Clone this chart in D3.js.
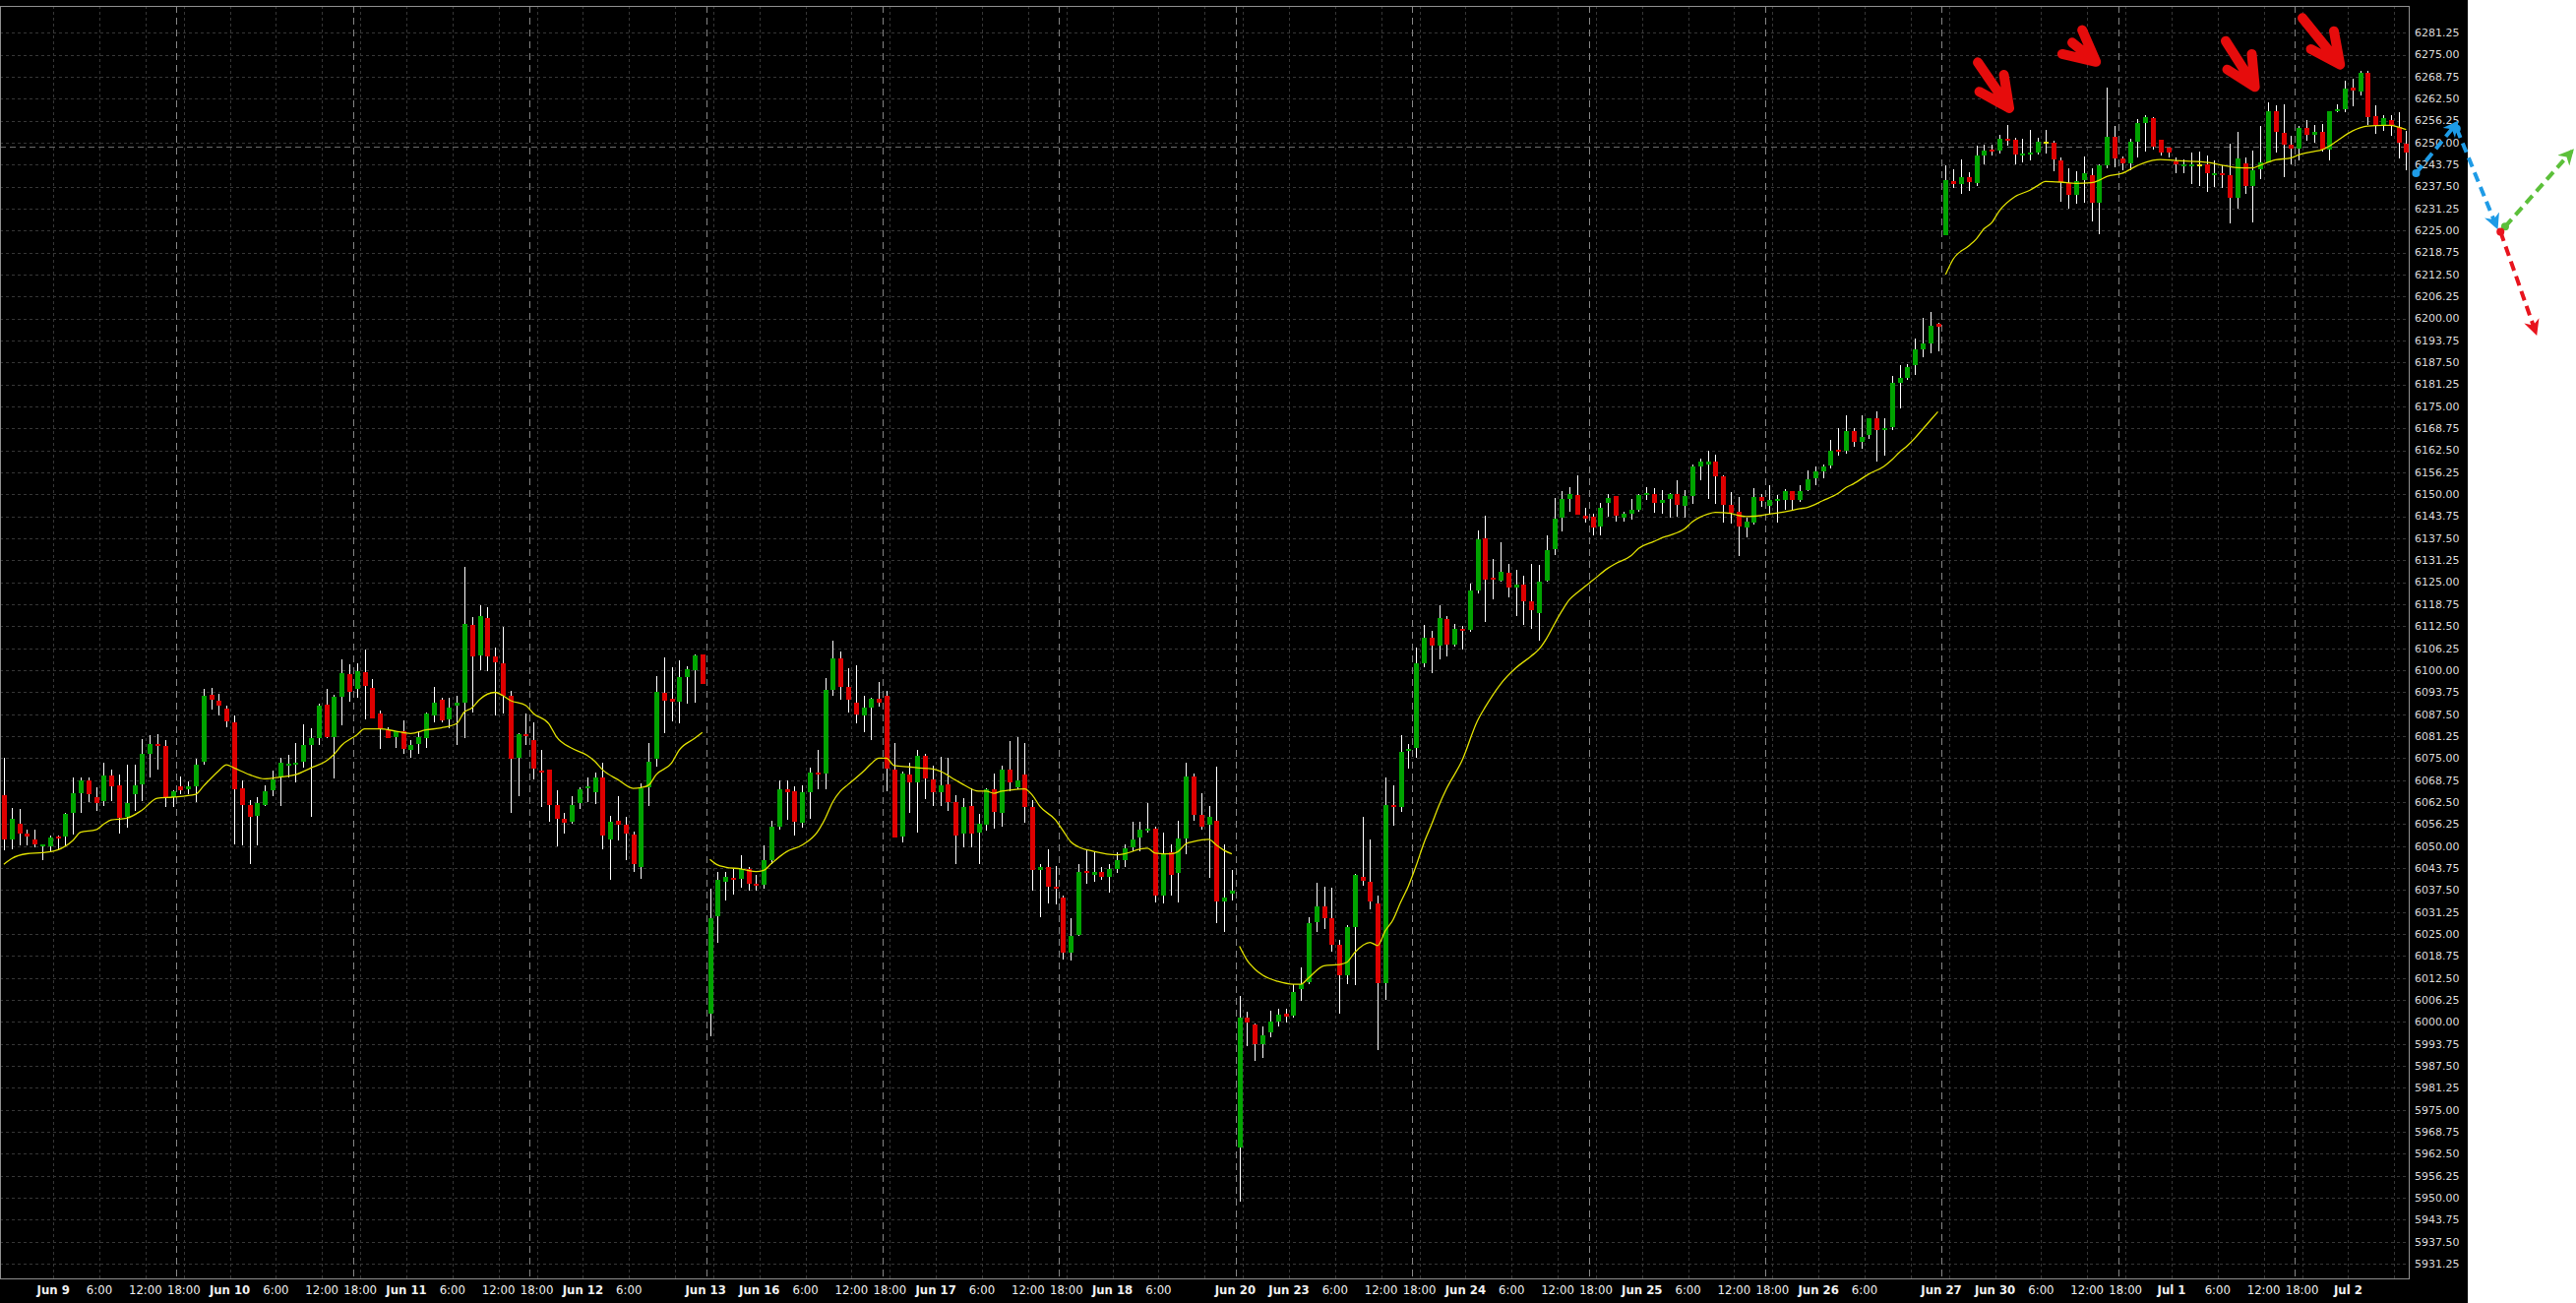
<!DOCTYPE html>
<html><head><meta charset="utf-8">
<script src="https://cdn.jsdelivr.net/npm/d3@7"></script>
<style>html,body{margin:0;padding:0;background:#fff;overflow:hidden}</style>
</head><body>
<svg id="chart" width="2618" height="1324"></svg>
<script>
// ---------- DATA (hourly OHLC, bar index 0..313) ----------
const openP = [
6064.5,6052.0,6056.3,6053.6,6051.9,6049.9,6049.9,6052.8,6052.8,6059.5,
6064.9,6068.7,6064.0,6062.8,6070.1,6067.3,6058.3,6064.7,6067.5,6076.1,
6078.9,6078.4,6064.0,6067.0,6066.1,6067.0,6074.1,6093.1,6091.4,6089.1,
6085.3,6066.3,6061.6,6058.5,6061.7,6065.8,6069.6,6072.9,6073.1,6074.1,
6078.8,6080.8,6090.2,6081.1,6092.3,6098.8,6094.7,6099.4,6094.9,6087.7,
6083.0,6080.9,6082.7,6077.3,6079.0,6080.8,6087.2,6091.6,6086.1,6089.8,
6090.9,6113.0,6104.3,6114.9,6103.9,6102.0,6092.8,6075.2,6081.7,6080.0,
6071.4,6071.7,6061.7,6057.7,6057.0,6062.3,6066.4,6065.4,6069.4,6051.8,
6057.2,6056.1,6053.3,6043.9,6066.6,6074.8,6093.6,6091.9,6091.1,6098.1,
6100.1,6104.4,6002.25,6030.0,6039.75,6041.0,6040.6,6043.5,6039.4,6039.1,
6046.0,6055.6,6066.0,6065.6,6056.6,6065.4,6070.75,6070.6,6094.4,6103.25,
6095.25,6090.75,6087.25,6089.25,6091.75,6092.75,6071.6,6052.75,6070.25,6068.1,
6075.6,6069.0,6065.4,6067.5,6062.5,6053.5,6061.25,6053.75,6056.0,6066.25,
6059.4,6071.6,6066.75,6070.25,6061.0,6043.1,6044.1,6038.5,6035.4,6019.75,
6024.75,6042.9,6041.9,6042.5,6041.25,6043.5,6046.0,6049.75,6052.4,6054.5,
6055.0,6036.0,6048.1,6042.25,6052.25,6069.75,6058.75,6056.0,6057.25,6034.1,
6036.6,5964.4,6001.3,5999.2,5993.7,5996.95,6000.1,6002.2,6001.7,6009.45,
6011.3,6028.45,6032.95,6029.45,6021.95,6013.2,6026.95,6041.3,6039.8,6033.8,
6011.1,6061.7,6061.1,6077.2,6077.8,6101.95,6109.2,6106.95,6114.45,6107.2,
6111.7,6111.6,6122.8,6137.4,6126.1,6125.45,6127.6,6123.45,6124.45,6119.45,
6116.1,6125.45,6134.5,6143.4,6148.8,6149.7,6143.9,6143.7,6140.9,6147.7,
6149.4,6143.4,6144.4,6145.5,6149.8,6150.1,6147.5,6148.7,6150.1,6146.7,
6149.5,6157.9,6158.6,6159.2,6155.1,6146.9,6145.0,6140.6,6142.0,6149.2,
6146.7,6148.1,6148.5,6150.8,6148.5,6151.1,6154.7,6156.6,6158.1,6162.5,
6162.3,6168.1,6164.8,6166.9,6171.6,6168.3,6169.1,6181.6,6183.2,6186.8,
6191.2,6193.0,6198.4,6223.6,6239.1,6238.2,6240.2,6238.5,6246.3,6248.0,
6247.7,6251.1,6250.7,6246.5,6246.6,6247.1,6250.0,6250.0,6244.9,6238.5,
6235.1,6239.3,6240.7,6233.0,6243.5,6251.6,6245.5,6244.2,6250.3,6255.6,
6256.9,6250.9,6248.6,6244.6,6243.3,6243.3,6243.5,6243.8,6240.9,6241.4,
6240.7,6234.2,6244.2,6237.6,6242.5,6244.4,6259.0,6252.8,6249.5,6248.4,
6254.2,6252.2,6253.1,6247.9,6259.0,6259.5,6265.6,6264.5,6269.9,6257.5,
6255.1,6256.5,6254.4,6249.7];
const highP = [
6075.0,6060.7,6060.5,6054.8,6054.8,6050.6,6053.0,6053.0,6059.5,6069.4,
6069.4,6069.4,6066.6,6073.6,6071.7,6070.3,6073.0,6073.1,6080.4,6081.4,
6081.7,6080.2,6065.8,6069.8,6068.4,6074.8,6094.7,6094.9,6093.3,6090.0,
6087.2,6068.6,6063.1,6064.0,6067.3,6071.4,6075.0,6075.8,6079.2,6084.7,
6083.4,6090.5,6094.7,6093.1,6103.1,6101.7,6102.0,6106.0,6097.5,6088.4,
6083.9,6082.7,6085.6,6080.1,6082.7,6088.1,6095.3,6092.1,6092.1,6092.8,
6129.4,6115.1,6118.6,6117.9,6106.4,6112.3,6094.2,6082.0,6087.7,6085.1,
6077.3,6071.7,6065.8,6059.5,6064.2,6066.6,6069.4,6070.8,6073.6,6058.6,
6064.2,6058.3,6054.2,6067.8,6079.2,6098.4,6103.6,6100.8,6102.7,6101.1,
6104.5,6104.4,6037.75,6042.75,6042.75,6043.5,6047.25,6044.0,6041.9,6050.25,
6057.25,6068.75,6068.75,6066.9,6067.25,6072.25,6077.25,6097.75,6108.5,6105.25,
6100.6,6101.5,6092.75,6092.25,6096.75,6094.0,6079.4,6071.25,6073.75,6077.25,
6076.25,6072.75,6075.25,6075.0,6064.4,6063.75,6066.5,6059.0,6066.5,6070.6,
6072.75,6079.75,6080.9,6079.4,6063.1,6044.75,6049.0,6044.4,6036.0,6029.4,
6045.0,6049.0,6048.1,6044.0,6044.75,6048.1,6050.6,6056.9,6056.9,6062.25,
6055.6,6053.75,6050.6,6057.25,6073.75,6070.6,6065.0,6061.5,6072.5,6050.6,
6043.1,6007.5,6002.8,5999.45,5998.8,6003.2,6003.8,6003.8,6010.7,6015.45,
6029.8,6039.45,6038.45,6038.2,6023.45,6027.6,6042.2,6058.2,6051.95,6035.95,
6069.45,6067.35,6081.45,6079.1,6106.3,6112.95,6111.3,6118.6,6115.35,6113.2,
6112.6,6124.7,6139.6,6143.9,6131.7,6136.3,6130.1,6128.45,6126.95,6130.1,
6129.8,6138.3,6149.0,6150.9,6152.0,6155.5,6146.3,6144.4,6147.5,6150.2,
6149.4,6145.0,6148.6,6150.2,6152.0,6151.7,6151.1,6150.4,6153.9,6151.1,
6158.5,6160.1,6162.3,6161.3,6155.5,6150.6,6149.2,6143.4,6151.7,6150.1,
6152.6,6149.7,6151.5,6150.8,6152.5,6156.9,6157.9,6158.5,6165.5,6168.8,
6172.5,6168.8,6172.5,6171.6,6173.5,6171.6,6183.7,6186.8,6187.0,6194.4,
6200.1,6201.8,6198.9,6243.5,6242.3,6245.3,6241.6,6249.1,6249.5,6249.5,
6252.3,6255.1,6251.4,6251.2,6253.6,6251.4,6253.5,6250.5,6245.8,6242.8,
6241.9,6246.0,6242.8,6243.8,6265.6,6254.7,6246.0,6251.2,6256.8,6257.9,
6257.2,6250.9,6248.6,6245.8,6245.3,6247.2,6247.5,6246.3,6244.9,6243.5,
6249.7,6253.1,6245.8,6247.8,6254.7,6261.5,6260.5,6260.9,6251.9,6254.7,
6256.3,6255.1,6255.3,6259.0,6260.9,6267.7,6268.2,6270.3,6270.5,6260.7,
6257.7,6257.7,6258.7,6253.3];
const lowP = [
6048.75,6049.2,6050.2,6050.2,6049.7,6046.1,6048.6,6048.8,6050.2,6053.4,
6059.5,6062.4,6060.0,6061.4,6062.8,6053.6,6055.3,6060.0,6062.8,6069.4,
6071.7,6061.0,6061.0,6064.7,6064.7,6062.6,6073.1,6088.9,6087.2,6083.8,
6050.4,6050.2,6044.8,6050.2,6061.4,6064.1,6061.4,6069.4,6068.0,6072.2,
6058.3,6078.8,6080.6,6069.2,6084.4,6091.1,6092.1,6086.1,6086.3,6077.6,
6080.6,6077.8,6076.2,6075.0,6076.2,6077.8,6085.3,6085.3,6083.4,6078.6,
6080.6,6088.1,6100.1,6099.8,6087.2,6087.7,6059.3,6064.2,6078.8,6068.9,
6061.0,6057.0,6049.9,6053.6,6056.3,6060.5,6062.4,6061.9,6049.0,6040.5,
6051.6,6046.1,6042.7,6040.8,6061.4,6072.6,6082.1,6085.5,6084.8,6090.5,
6090.8,6096.0,5995.9,6022.6,6034.4,6036.25,6038.1,6037.25,6037.25,6037.75,
6044.75,6054.75,6057.5,6053.1,6055.25,6057.75,6066.25,6066.25,6092.75,6091.5,
6088.1,6085.0,6082.5,6080.25,6089.75,6065.6,6052.5,6051.0,6059.4,6053.75,
6063.4,6061.5,6061.25,6060.0,6044.75,6049.75,6049.75,6044.75,6054.4,6055.0,
6055.6,6065.6,6066.25,6056.5,6037.25,6029.75,6033.75,6033.5,6017.6,6017.4,
6024.4,6039.4,6039.75,6040.25,6036.75,6042.25,6044.0,6048.5,6048.5,6053.75,
6034.0,6033.75,6036.0,6034.0,6047.75,6057.25,6054.75,6041.0,6028.1,6025.6,
6034.4,5948.75,5993.2,5988.8,5989.8,5995.7,5998.8,5999.7,6001.1,6005.95,
6010.7,6025.45,6026.3,6020.1,6002.3,6010.7,6010.45,6038.8,6031.95,5991.95,
6006.2,6055.7,6059.7,6071.95,6074.95,6100.7,6099.2,6103.2,6103.85,6106.7,
6105.95,6110.95,6121.95,6113.8,6120.1,6125.1,6120.7,6115.45,6112.95,6111.7,
6108.45,6125.1,6132.7,6139.5,6145.0,6144.3,6142.1,6138.3,6138.3,6143.7,
6142.2,6142.2,6142.8,6145.0,6148.3,6144.7,6144.5,6143.3,6143.7,6143.3,
6147.3,6154.0,6148.6,6147.3,6141.9,6141.6,6132.4,6137.9,6141.3,6146.4,
6144.5,6142.1,6145.7,6145.7,6147.9,6150.8,6152.6,6154.5,6157.3,6160.9,
6161.6,6163.5,6162.9,6165.7,6159.4,6160.9,6168.3,6174.4,6182.5,6184.0,
6189.0,6190.2,6190.7,6223.6,6237.2,6235.5,6236.3,6237.6,6243.9,6246.3,
6246.9,6249.1,6243.9,6244.4,6244.9,6246.5,6246.9,6241.9,6233.2,6231.3,
6232.6,6232.9,6227.6,6223.9,6242.8,6243.0,6242.1,6242.1,6245.8,6247.5,
6248.1,6246.3,6245.8,6241.2,6241.2,6238.3,6237.8,6236.0,6237.4,6237.2,
6227.1,6231.3,6235.4,6227.3,6239.5,6244.4,6247.2,6240.2,6243.9,6244.9,
6250.5,6250.0,6247.5,6244.9,6258.7,6258.7,6260.3,6263.5,6255.1,6252.5,
6253.3,6251.9,6245.6,6242.1];
const closeP = [
6052.0,6057.8,6053.6,6052.7,6050.6,6050.3,6052.5,6052.3,6059.1,6064.9,
6068.6,6064.7,6062.1,6070.1,6067.1,6057.9,6062.3,6067.2,6076.1,6078.9,
6078.5,6063.8,6065.6,6065.8,6067.1,6073.0,6092.6,6091.7,6090.0,6085.5,
6066.1,6061.6,6058.3,6062.1,6065.6,6068.9,6073.6,6073.3,6073.6,6078.7,
6080.6,6090.0,6081.1,6092.3,6099.2,6093.9,6099.7,6095.4,6086.3,6083.4,
6080.6,6082.7,6077.6,6078.6,6080.9,6087.7,6090.9,6085.7,6089.3,6090.9,
6113.2,6103.9,6115.5,6103.9,6102.2,6092.8,6074.8,6081.7,6081.3,6072.0,
6070.8,6061.7,6057.7,6056.7,6061.7,6066.1,6066.9,6069.4,6053.0,6057.0,
6056.1,6053.6,6044.8,6066.4,6074.1,6093.8,6091.4,6091.1,6098.0,6100.3,
6104.2,6096.1,6029.6,6040.25,6041.25,6040.25,6043.5,6039.4,6038.75,6046.0,
6055.6,6066.25,6065.4,6056.9,6065.4,6071.0,6070.25,6094.4,6103.25,6095.25,
6091.6,6087.5,6089.25,6091.75,6090.75,6071.9,6052.5,6070.6,6068.1,6075.6,
6069.1,6065.4,6067.25,6062.5,6053.1,6061.0,6053.5,6056.25,6066.25,6059.75,
6071.6,6068.1,6068.75,6061.0,6043.1,6044.1,6038.5,6037.75,6019.75,6024.4,
6042.75,6042.25,6042.6,6041.25,6043.5,6046.0,6049.4,6051.9,6054.75,6055.0,
6036.0,6047.75,6041.9,6052.25,6069.75,6058.75,6055.6,6058.4,6034.1,6035.4,
6037.25,6001.25,5999.7,5993.7,5996.3,6000.1,6001.95,6001.6,6008.6,6010.7,
6027.95,6032.95,6029.45,6021.95,6013.2,6026.95,6041.7,6040.1,6034.2,6011.1,
6061.6,6061.1,6076.7,6077.7,6101.95,6109.1,6106.95,6114.7,6107.2,6111.7,
6111.2,6122.6,6137.1,6125.7,6125.7,6127.95,6123.45,6124.45,6119.45,6117.2,
6125.3,6134.1,6143.0,6148.6,6150.0,6144.3,6143.0,6140.7,6146.3,6149.1,
6143.9,6144.4,6145.5,6149.7,6150.3,6147.5,6148.5,6150.0,6146.9,6149.5,
6157.9,6159.2,6159.2,6155.1,6146.9,6144.8,6140.8,6142.2,6149.2,6148.0,
6148.5,6148.5,6150.8,6148.5,6150.9,6154.3,6156.6,6157.9,6162.5,6162.1,
6168.1,6164.8,6166.2,6171.6,6168.3,6168.8,6181.6,6183.2,6186.3,6191.2,
6192.8,6197.9,6197.6,6239.3,6238.2,6240.2,6238.8,6246.3,6247.7,6247.5,
6251.1,6250.6,6246.5,6247.0,6247.1,6250.3,6250.0,6245.3,6238.8,6235.1,
6239.1,6241.2,6233.0,6243.5,6251.6,6245.5,6244.2,6250.3,6255.6,6257.3,
6248.9,6247.2,6247.2,6243.9,6243.8,6243.8,6243.5,6241.3,6241.4,6240.7,
6234.3,6245.6,6237.7,6242.1,6244.4,6259.0,6253.2,6249.3,6248.4,6254.2,
6252.2,6253.1,6247.9,6259.0,6259.5,6265.4,6264.7,6269.9,6257.4,6255.1,
6257.0,6254.9,6250.0,6247.2];

// Moving average (yellow), [bar, value], four separate segments
const maSeg1 = [[0,6044.8],[1,6046.4],[3,6047.8],[5,6048.1],[7,6048.9],[9,6051.6],[10,6053.9],[12,6054.6],[13,6056.2],[14,6057.4],[16,6057.9],[18,6060.2],[20,6063.6],[22,6063.9],[25,6064.7],[26,6067.0],[28,6071.4],[29,6073.1],[30,6072.2],[32,6070.3],[34,6069.1],[36,6069.6],[38,6070.3],[40,6072.2],[42,6074.2],[43,6076.0],[44,6078.6],[46,6081.6],[47,6083.3],[49,6083.3],[51,6082.7],[53,6082.0],[55,6083.0],[57,6083.6],[59,6084.8],[60,6088.1],[61,6089.3],[62,6091.7],[64,6093.7],[65,6092.8],[66,6091.4],[68,6090.0],[69,6087.7],[71,6084.8],[72,6081.1],[74,6077.8],[76,6075.8],[77,6074.1],[78,6071.7],[80,6068.9],[82,6066.4],[83,6066.6],[84,6067.3],[85,6070.3],[87,6073.6],[88,6077.3],[90,6080.6],[91,6082.3]];
const maSeg2 = [[92,6046.2],[93,6044.6],[94,6044.0],[96,6043.5],[98,6042.75],[99,6043.1],[100,6045.0],[102,6048.4],[104,6050.25],[106,6054.0],[107,6057.75],[108,6062.5],[109,6065.6],[110,6067.5],[112,6071.25],[113,6073.4],[114,6075.0],[115,6075.0],[116,6072.9],[118,6072.5],[119,6072.25],[121,6071.9],[122,6071.25],[124,6068.75],[125,6067.5],[127,6065.6],[128,6065.6],[129,6065.0],[130,6065.6],[131,6065.9],[133,6066.25],[134,6064.5],[135,6061.25],[137,6057.5],[138,6054.4],[139,6051.25],[140,6049.75],[142,6048.5],[145,6047.5],[146,6047.75],[148,6049.1],[149,6049.4],[150,6048.0],[152,6047.75],[153,6048.4],[154,6050.6],[155,6051.25],[157,6051.9],[158,6050.25],[159,6048.75],[160,6047.75]];
const maSeg3 = [[161,6021.5],[162,6017.5],[163,6015.0],[164,6013.3],[166,6011.5],[168,6010.7],[169,6010.7],[170,6012.5],[172,6015.95],[174,6016.3],[175,6016.95],[176,6019.7],[178,6022.6],[179,6021.7],[180,6025.9],[181,6029.0],[182,6034.0],[183,6038.6],[184,6044.3],[185,6050.7],[186,6056.0],[187,6061.6],[188,6066.4],[190,6074.3],[192,6085.6],[193,6089.45],[195,6096.0],[197,6100.6],[199,6104.0],[200,6105.9],[201,6109.0],[202,6113.0],[203,6116.8],[204,6120.1],[205,6122.0],[206,6123.8],[207,6125.5],[209,6129.0],[210,6130.3],[212,6132.5],[213,6134.6],[215,6136.6],[216,6137.6],[217,6138.3],[219,6140.2],[220,6142.2],[222,6144.4],[223,6144.9],[225,6144.6],[226,6144.0],[227,6143.7],[229,6144.0],[230,6144.4],[232,6145.0],[234,6145.9],[235,6146.3],[237,6148.2],[239,6150.3],[240,6151.9],[241,6153.0],[243,6155.8],[245,6158.0],[246,6159.8],[247,6162.0],[248,6163.8],[249,6166.0],[250,6168.5],[251,6171.0],[252,6173.5]];
const maSeg4 = [[253,6212.5],[254,6216.9],[256,6220.6],[257,6222.6],[258,6225.5],[259,6227.2],[260,6230.6],[262,6234.6],[264,6236.5],[265,6237.8],[266,6239.0],[268,6238.8],[270,6238.4],[272,6238.6],[273,6239.3],[274,6240.4],[276,6241.3],[278,6243.5],[280,6245.0],[281,6245.2],[283,6244.9],[286,6244.6],[288,6244.1],[289,6243.6],[291,6242.9],[293,6242.8],[294,6243.6],[296,6245.1],[298,6245.7],[299,6246.5],[301,6247.5],[302,6247.9],[303,6249.0],[304,6250.5],[306,6253.3],[307,6254.2],[308,6254.7],[310,6254.9],[311,6254.9],[312,6254.4],[313,6253.7]];

// Time axis labels: bar index + text
const xTickBars   = [6,12,18,23,29,35,41,46,52,58,64,69,75,81,91,98,104,110,115,121,127,133,138,144,150,160,167,173,179,184,190,196,202,207,213,219,225,230,236,242,252,259,265,271,276,282,288,294,299,305];
const xTickLabels = ["Jun 9","6:00","12:00","18:00","Jun 10","6:00","12:00","18:00","Jun 11","6:00","12:00","18:00","Jun 12","6:00","Jun 13","Jun 16","6:00","12:00","18:00","Jun 17","6:00","12:00","18:00","Jun 18","6:00","Jun 20","Jun 23","6:00","12:00","18:00","Jun 24","6:00","12:00","18:00","Jun 25","6:00","12:00","18:00","Jun 26","6:00","Jun 27","Jun 30","6:00","12:00","18:00","Jul 1","6:00","12:00","18:00","Jul 2"];
const dayStartBars = [6,29,52,75,98,121,144,167,190,213,236,259,282,305];
const sessionBreakBars = [22.5,45.5,68.5,91.5,114.5,137.5,160.5,183.5,206.5,229.5,252.5,275.5,298.5];
const yTickMin = 5931.25, yTickMax = 6281.25, yTickStep = 6.25;
const priceLineValue = 6248.9;

// Hand-drawn annotations (bar index / price)
const redArrows = [
  {from:[257.2,6272.85], tip:[261.3,6259.8], barbA:[257.4,6264.5], barbB:[260.6,6269.3]},
  {from:[269.5,6278.45], tip:[272.6,6273.0], barbA:[268.2,6275.2], barbB:[270.8,6282.0]},
  {from:[289.5,6278.9],  tip:[293.3,6265.85], barbA:[289.7,6270.8], barbB:[292.9,6275.2]},
  {from:[299.5,6285.45], tip:[304.4,6272.2], barbA:[300.6,6276.6], barbB:[303.6,6281.7]}
];
const dashArrows = [
  {color:"#1e9be6", from:[314.3,6241.3], to:[319.6,6255.6]},
  {color:"#1e9be6", from:[319.6,6254.0], to:[324.8,6226.1]},
  {color:"#5cc03a", from:[325.9,6226.1], to:[334.6,6247.6]},
  {color:"#e8141e", from:[325.3,6224.7], to:[329.9,6196.0]}
];

// ---------- DRAW ----------
const W = 2618, H = 1324;
const plotL = 0, plotR = 2448, plotT = 6, plotB = 1299;
const svg = d3.select("#chart");
const x = d3.scaleLinear().domain([0, 313]).range([3.9, 2445.3]);
const y = d3.scaleLinear().domain([yTickMin, yTickMax]).range([1284, 33.3]);

svg.append("rect").attr("x",0).attr("y",0).attr("width",W).attr("height",H).attr("fill","#ffffff");
svg.append("rect").attr("x",0).attr("y",0).attr("width",2508).attr("height",H).attr("fill","#000000");

const defs = svg.append("defs");
defs.append("clipPath").attr("id","plotclip").append("rect")
  .attr("x",plotL).attr("y",plotT).attr("width",plotR-plotL).attr("height",plotB-plotT);

const yTicks = d3.range(yTickMin, yTickMax + 0.001, yTickStep);

const grid = svg.append("g").attr("clip-path","url(#plotclip)");
grid.selectAll("line.hg").data(yTicks).enter().append("line")
  .attr("x1",plotL).attr("x2",plotR)
  .attr("y1",d=>Math.round(y(d))+0.5).attr("y2",d=>Math.round(y(d))+0.5)
  .attr("stroke","#363636").attr("stroke-width",1).attr("stroke-dasharray","3,3");
const vBars = [];
dayStartBars.forEach(d => [0,6,12,17].forEach(o => { if (d+o <= 313) vBars.push(d+o); }));
grid.selectAll("line.vg").data(vBars).enter().append("line")
  .attr("x1",d=>Math.round(x(d)+3.5)+0.5).attr("x2",d=>Math.round(x(d)+3.5)+0.5)
  .attr("y1",plotT).attr("y2",plotB)
  .attr("stroke","#363636").attr("stroke-width",1).attr("stroke-dasharray","3,3");
grid.selectAll("line.sep").data(sessionBreakBars).enter().append("line")
  .attr("x1",d=>Math.round(x(d))+0.5).attr("x2",d=>Math.round(x(d))+0.5)
  .attr("y1",plotT).attr("y2",plotB)
  .attr("stroke","#858585").attr("stroke-width",1).attr("stroke-dasharray","7,5");
grid.append("line").attr("x1",plotL).attr("x2",plotR)
  .attr("y1",Math.round(y(priceLineValue))+0.5).attr("y2",Math.round(y(priceLineValue))+0.5)
  .attr("stroke","#6a6a6a").attr("stroke-width",1).attr("stroke-dasharray","6,4");

// candles
const bars = d3.range(openP.length).map(i => ({i, o:openP[i], h:highP[i], l:lowP[i], c:closeP[i]}));
const cg = svg.append("g").attr("clip-path","url(#plotclip)");
const cand = cg.selectAll("g.c").data(bars).enter().append("g");
cand.append("line")
  .attr("x1",d=>Math.round(x(d.i))+0.5).attr("x2",d=>Math.round(x(d.i))+0.5)
  .attr("y1",d=>y(d.h)).attr("y2",d=>y(d.l))
  .attr("stroke","#ffffff").attr("stroke-width",1).attr("shape-rendering","crispEdges");
cand.append("rect")
  .attr("x",d=>Math.round(x(d.i))-2)
  .attr("width",5)
  .attr("y",d=>{const t=Math.min(y(d.o),y(d.c)), hh=Math.abs(y(d.o)-y(d.c)); return hh<2 ? (y(d.o)+y(d.c))/2-1 : t;})
  .attr("height",d=>Math.max(2, Math.abs(y(d.o)-y(d.c))))
  .attr("fill",d=> d.c>d.o ? "#00a300" : (d.c<d.o ? "#dd0000" : "#e8e800"))
  .attr("shape-rendering","crispEdges");

// moving average
const maLine = d3.line().x(d=>x(d[0])).y(d=>y(d[1])).curve(d3.curveMonotoneX);
[maSeg1, maSeg2, maSeg3, maSeg4].forEach(seg => {
  cg.append("path").attr("d", maLine(seg)).attr("fill","none")
    .attr("stroke","#e2e200").attr("stroke-width",1.3);
});

// frame
svg.append("rect").attr("x",plotL+0.5).attr("y",plotT+0.5).attr("width",plotR-plotL).attr("height",plotB-plotT)
  .attr("fill","none").attr("stroke","#8f8f8f").attr("stroke-width",1);

// y labels
svg.append("g").selectAll("text").data(yTicks).enter().append("text")
  .attr("x",2454).attr("y",d=>y(d)).attr("dy","0.35em")
  .attr("font-family","DejaVu Sans, sans-serif").attr("font-size",11)
  .attr("fill","#dcdcdc").text(d=>d.toFixed(2));

// x labels
svg.append("g").selectAll("text").data(xTickBars).enter().append("text")
  .attr("x",d=>x(d)+3.5).attr("y",1310).attr("dy","0.35em")
  .attr("text-anchor","middle")
  .attr("font-family","DejaVu Sans Condensed, DejaVu Sans, sans-serif").attr("font-size",13)
  .attr("font-stretch","condensed")
  .attr("font-weight",(d,k)=> /^(Jun|Jul)/.test(xTickLabels[k]) ? "bold" : "normal")
  .attr("fill","#f0f0f0").text((d,k)=>xTickLabels[k]);

// red hand-drawn arrows
const ag = svg.append("g");
redArrows.forEach(a => {
  const P = p => [x(p[0]), y(p[1])];
  const f=P(a.from), t=P(a.tip), ba=P(a.barbA), bb=P(a.barbB);
  ag.append("path")
    .attr("d",`M${f[0]},${f[1]}L${t[0]},${t[1]}M${ba[0]},${ba[1]}L${t[0]},${t[1]}L${bb[0]},${bb[1]}`)
    .attr("fill","none").attr("stroke","#e60c0c").attr("stroke-width",10)
    .attr("stroke-linecap","round").attr("stroke-linejoin","round");
});

// dashed arrows on the right
dashArrows.forEach((a,k) => {
  const id = "ah"+k;
  defs.append("marker").attr("id",id).attr("viewBox","0 0 10 10").attr("refX",8).attr("refY",5)
    .attr("markerWidth",16).attr("markerHeight",16).attr("markerUnits","userSpaceOnUse").attr("orient","auto")
    .append("path").attr("d","M0,0 L10,5 L0,10 L3,5 z").attr("fill",a.color);
  const fx=x(a.from[0]), fy=y(a.from[1]), tx=x(a.to[0]), ty=y(a.to[1]);
  ag.append("line").attr("x1",fx).attr("y1",fy).attr("x2",tx).attr("y2",ty)
    .attr("stroke",a.color).attr("stroke-width",4).attr("stroke-dasharray","10,6")
    .attr("marker-end",`url(#${id})`);
  ag.append("circle").attr("cx",fx).attr("cy",fy).attr("r",4).attr("fill",a.color);
});
</script>
</body></html>
